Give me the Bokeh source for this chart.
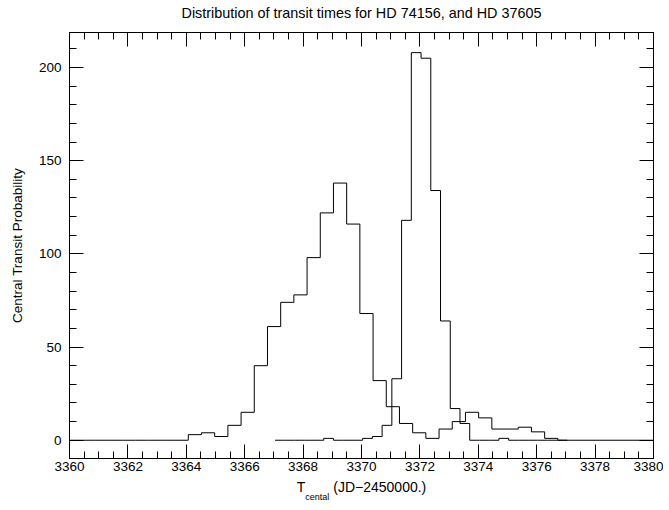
import numpy as np
from bokeh.plotting import figure
from bokeh.models import LinearAxis, Range1d, Label, SingleIntervalTicker
from bokeh.embed import file_html
from bokeh.resources import INLINE

# ---- data -------------------------------------------------------------
title_text = "Distribution of transit times for HD 74156, and HD 37605"
y_label = "Central Transit Probability"
x_label_main = "T\u2003\u2003(JD\u22122450000.)"
x_label_sub = "cental"
x_label_sub_x = 3368.07

# broad distribution (bins start at 3360, width 0.452 d)
a_start = 3360.0
a_width = 0.452
a_counts = [0, 0, 0, 0, 0, 0, 0, 0, 0,
            3, 4, 2, 8, 15, 40, 61, 74, 78, 98, 122, 138, 116, 68, 32,
            18, 9, 4, 1, 6, 10, 15, 12, 6, 6, 7, 4.5, 1, 0]
a_end = 3380.0

# narrow distribution (bins start at 3367.04, width 1/3 d)
b_start = 3367.04
b_width = 0.3333
b_counts = [0, 0, 0, 0, 0, 1, 0, 0, 0, 1, 2, 8, 33, 118, 208, 205, 134,
            64, 17, 9, 0, 0, 0, 1, 0, 0, 0, 0, 0, 0]

x_min, x_max = 3360, 3380
y_min, y_max = -9.8, 218.8

FONT = "Liberation Sans"


def steps(start, width, counts, end=None):
    xs, ys = [], []
    for i, c in enumerate(counts):
        xs += [start + i * width, start + (i + 1) * width]
        ys += [c, c]
    if end is not None:
        xs.append(end)
        ys.append(counts[-1])
    return xs, ys


p = figure(frame_width=584, frame_height=426, output_backend="svg",
           toolbar_location=None,
           x_range=Range1d(x_min, x_max), y_range=Range1d(y_min, y_max),
           min_border_left=69, min_border_right=10, min_border_top=32,
           min_border_bottom=0, background_fill_color="white",
           border_fill_color="white")
p.xgrid.visible = False
p.ygrid.visible = False
p.outline_line_color = "black"
p.outline_line_width = 1

xt = SingleIntervalTicker(interval=2, num_minor_ticks=4)
yt = SingleIntervalTicker(interval=50, num_minor_ticks=5)
xa = p.below[0]
ya = p.left[0]
xa.ticker = xt
ya.ticker = yt

top = LinearAxis(ticker=xt)
right = LinearAxis(ticker=yt)
p.add_layout(top, "above")
p.add_layout(right, "right")

for ax in (xa, ya, top, right):
    ax.major_tick_in = 14
    ax.major_tick_out = 0
    ax.minor_tick_in = 7
    ax.minor_tick_out = 0
    ax.axis_line_color = "black"
    ax.major_tick_line_color = "black"
    ax.minor_tick_line_color = "black"
    ax.major_label_text_font = FONT
    ax.major_label_text_font_size = "13.5px"
    ax.major_label_text_color = "black"

for ax in (top, right):
    ax.major_label_text_font_size = "0px"
    ax.major_label_text_alpha = 0
    ax.major_label_standoff = 0

xa.major_label_standoff = 3
xa.axis_label = x_label_main
xa.axis_label_text_font = FONT
xa.axis_label_text_font_size = "14px"
xa.axis_label_text_font_style = "normal"
xa.axis_label_text_color = "black"
xa.axis_label_standoff = 5

ya.major_label_standoff = 8
ya.axis_label = y_label
ya.axis_label_text_font = FONT
ya.axis_label_text_font_size = "13.5px"
ya.axis_label_text_font_style = "normal"
ya.axis_label_text_color = "black"
ya.axis_label_standoff = 11

ax_, ay_ = steps(a_start, a_width, a_counts, a_end)
bx_, by_ = steps(b_start, b_width, b_counts)
p.line(ax_, ay_, line_color="black", line_width=1)
p.line(bx_, by_, line_color="black", line_width=1)

p.add_layout(Label(x=(x_min + x_max) / 2, y=20, x_units="data",
                   y_units="screen", text=title_text, text_align="center",
                   text_baseline="middle", text_font=FONT,
                   text_font_size="14.4px", text_color="black"), "above")

p.add_layout(Label(x=x_label_sub_x, y=11, x_units="data", y_units="screen",
                   text=x_label_sub, text_align="left",
                   text_baseline="middle", text_font=FONT,
                   text_font_size="9px", text_color="black"), "below")

open("out.html", "w").write(file_html(p, INLINE))
